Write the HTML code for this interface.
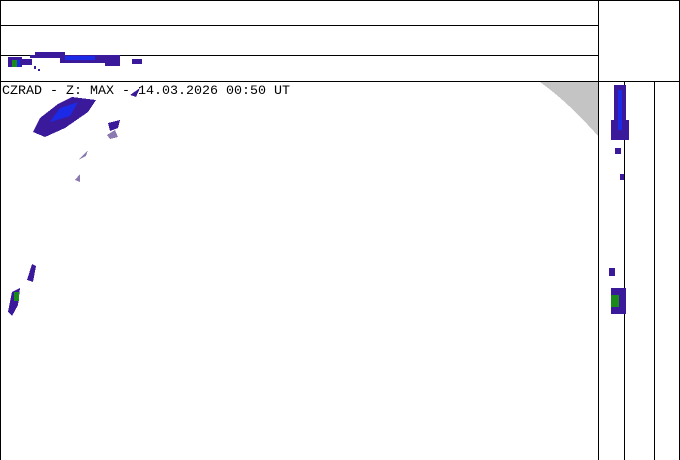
<!DOCTYPE html>
<html><head><meta charset="utf-8"><style>
html,body{margin:0;padding:0;background:#fff}
svg{display:block}
text{font-family:"Liberation Mono","DejaVu Sans Mono",monospace}
</style></head><body>
<svg width="680" height="460" viewBox="0 0 680 460" xmlns="http://www.w3.org/2000/svg" shape-rendering="crispEdges">
<rect width="680" height="460" fill="#fff"/>
<path d="M540 82 L598 82 L598 136 Q568 102 540 82 Z" fill="#c4c4c4"/>
<g stroke="#000" stroke-width="1">
<line x1="0" y1="0.5" x2="680" y2="0.5"/>
<line x1="0.5" y1="0" x2="0.5" y2="460"/>
<line x1="679.5" y1="0" x2="679.5" y2="460"/>
<line x1="0" y1="25.5" x2="598" y2="25.5"/>
<line x1="0" y1="55.5" x2="598" y2="55.5"/>
<line x1="0" y1="81.5" x2="680" y2="81.5"/>
<line x1="598.5" y1="0" x2="598.5" y2="460"/>
<line x1="624.5" y1="82" x2="624.5" y2="460"/>
<line x1="654.5" y1="82" x2="654.5" y2="460"/>
</g>
<g fill="#3a1a9a">
<rect x="8" y="57" width="14" height="10"/>
<rect x="22" y="59" width="10" height="6"/>
<rect x="30" y="55" width="90" height="3"/>
<rect x="35" y="52" width="30" height="3"/>
<rect x="60" y="58" width="60" height="5"/>
<rect x="105" y="62" width="15" height="4"/>
<rect x="132" y="59" width="10" height="5"/>
<rect x="34" y="66" width="2" height="3"/>
<rect x="38" y="69" width="2" height="2"/>
</g>
<rect x="65" y="56" width="30" height="4" fill="#1a2ae6"/>
<rect x="12" y="60" width="5" height="7" fill="#1a8a1a"/>
<rect x="17" y="60" width="3" height="7" fill="#1a2ae6"/>
<g fill="#3a1a9a">
<polygon points="33,132 40,118 58,104 72,97 96,100 88,112 65,128 45,137"/>
<polygon points="108,123 120,120 118,128 110,131"/>
<polygon points="130,95 140,88 136,97"/>
<polygon points="8,312 12,292 20,288 18,305 12,316"/>
<polygon points="27,280 32,264 36,266 33,282"/>
</g>
<polygon points="50,122 60,108 78,102 70,116" fill="#1a2ae6"/>
<polygon points="107,135 115,130 118,137 110,139" fill="#8a7ab0"/>
<polygon points="78,160 88,150 86,156" fill="#8a7ab0"/>
<polygon points="75,180 80,174 80,182" fill="#8a7ab0"/>
<rect x="14" y="292" width="5" height="9" fill="#1a8a1a"/>
<g fill="#3a1a9a">
<rect x="614" y="85" width="12" height="50"/>
<rect x="611" y="120" width="18" height="20"/>
<rect x="615" y="148" width="6" height="6"/>
<rect x="620" y="174" width="4" height="6"/>
<rect x="609" y="268" width="6" height="8"/>
<rect x="611" y="288" width="15" height="26"/>
</g>
<rect x="618" y="90" width="4" height="40" fill="#1a2ae6"/>
<rect x="611" y="295" width="8" height="12" fill="#1a8a1a"/>
<text x="2" y="94" font-size="13" fill="#000" textLength="288" lengthAdjust="spacingAndGlyphs">CZRAD - Z: MAX - 14.03.2026 00:50 UT</text>
</svg>
</body></html>
